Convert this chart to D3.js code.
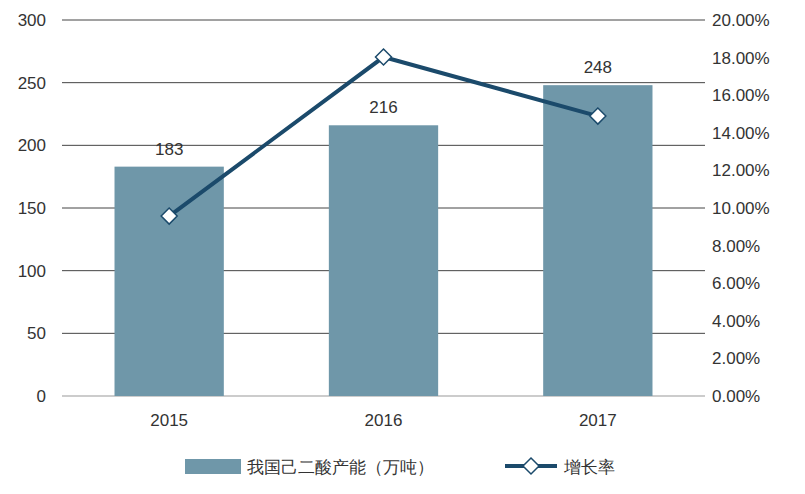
<!DOCTYPE html>
<html><head><meta charset="utf-8">
<script src="https://cdn.jsdelivr.net/npm/d3@7"></script>
<style>body{margin:0;background:#fff}text{font-family:"Liberation Sans",Arial,sans-serif}</style>
</head><body><svg id="c" width="805" height="494"></svg>
<script>
const years=["2015","2016","2017"];
const capacity=[183,216,248];
const growth=[9.57,18.03,14.89];
const leftTicks=[0,50,100,150,200,250,300];
const rightTicks=[0,2,4,6,8,10,12,14,16,18,20];
const barName="我国己二酸产能（万吨）", lineName="增长率";

const svg=d3.select("#c");
const L=62,R=705,T=20,B=396;
const x=d3.scaleBand().domain(years).range([L,R]).paddingInner(0.49).paddingOuter(0.245);
const y=d3.scaleLinear().domain([0,300]).range([B,T]);
const y2=d3.scaleLinear().domain([0,20]).range([B,T]);
const barC="#6f97a9", lineC="#1b4a6b";

svg.append("g").selectAll("line").data(leftTicks).join("line")
 .attr("x1",L).attr("x2",R).attr("y1",d=>y(d)).attr("y2",d=>y(d))
 .attr("stroke",d=>d===0?"#999":"#444").attr("stroke-width",1);
svg.append("g").selectAll("text").data(leftTicks).join("text")
 .attr("x",46).attr("y",d=>y(d)+6).attr("text-anchor","end").attr("font-size",17).attr("fill","#333").text(d=>d);
svg.append("g").selectAll("text").data(rightTicks).join("text")
 .attr("x",712).attr("y",d=>y2(d)+6).attr("font-size",17).attr("fill","#333").text(d=>d.toFixed(2)+"%");
svg.append("g").selectAll("rect").data(years).join("rect")
 .attr("x",d=>x(d)).attr("width",x.bandwidth()).attr("y",(d,i)=>y(capacity[i])).attr("height",(d,i)=>B-y(capacity[i])).attr("fill",barC);
svg.append("g").selectAll("text").data(years).join("text")
 .attr("x",d=>x(d)+x.bandwidth()/2).attr("y",(d,i)=>y(capacity[i])-12).attr("text-anchor","middle").attr("font-size",17).attr("fill","#333").text((d,i)=>capacity[i]);
svg.append("g").selectAll("text").data(years).join("text")
 .attr("x",d=>x(d)+x.bandwidth()/2).attr("y",426).attr("text-anchor","middle").attr("font-size",17).attr("fill","#333").text(d=>d);
const pts=years.map((d,i)=>[x(d)+x.bandwidth()/2,y2(growth[i])]);
svg.append("path").attr("d",d3.line()(pts)).attr("fill","none").attr("stroke",lineC).attr("stroke-width",4);
const dia="M0,-8L8,0L0,8L-8,0Z";
svg.append("g").selectAll("path").data(pts).join("path").attr("transform",d=>`translate(${d[0]},${d[1]})`)
 .attr("d",dia).attr("fill","#fff").attr("stroke",lineC).attr("stroke-width",1.5);
// legend
svg.append("rect").attr("x",185).attr("y",459).attr("width",56).attr("height",15).attr("fill",barC);
svg.append("text").attr("x",247).attr("y",473).attr("font-size",17).attr("fill","#333").attr("font-family","Noto Sans CJK SC").text(barName);
svg.append("line").attr("x1",505).attr("x2",557).attr("y1",466).attr("y2",466).attr("stroke",lineC).attr("stroke-width",4);
svg.append("path").attr("transform","translate(531,466)").attr("d",dia).attr("fill","#fff").attr("stroke",lineC).attr("stroke-width",1.5);
svg.append("text").attr("x",564).attr("y",473).attr("font-size",17).attr("fill","#333").attr("font-family","Noto Sans CJK SC").text(lineName);
</script></body></html>
